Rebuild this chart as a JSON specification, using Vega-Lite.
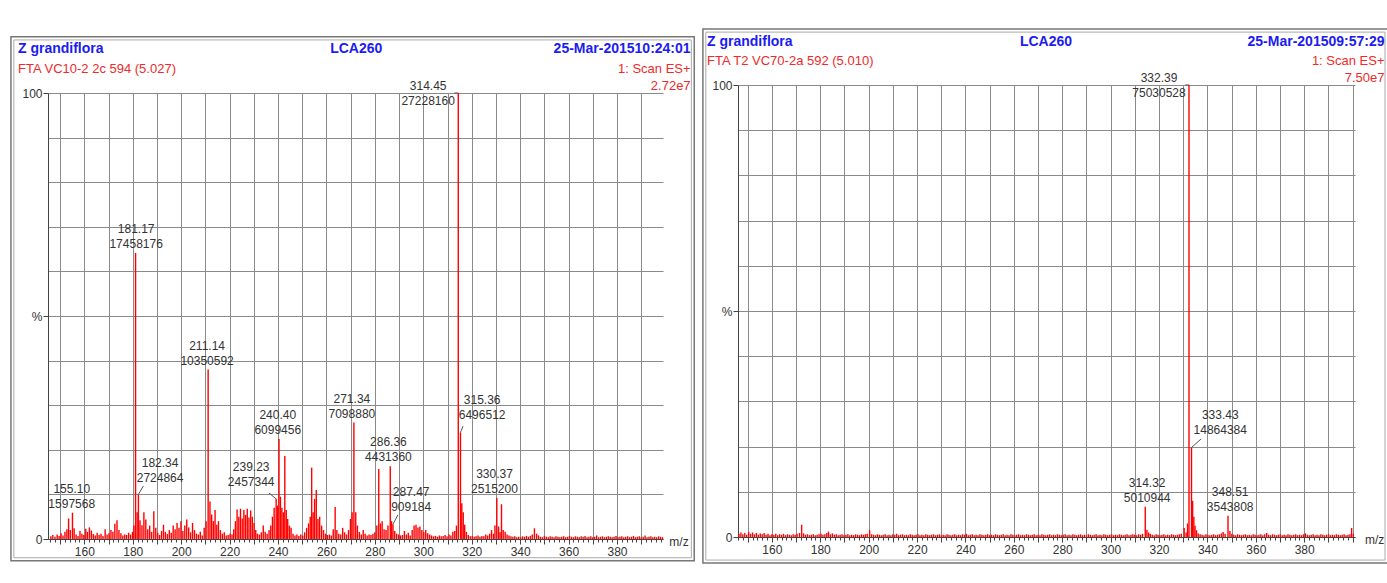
{
"$schema": "https://vega.github.io/schema/vega-lite/v6.json",
"background": "white",
"padding": {"left": 10, "top": 28, "right": 0, "bottom": 0},
"spacing": 7,
"config": {"view": {"stroke": null}, "font": "Liberation Sans"},
"datasets": {
"one": [{}],
"left": [
{"m":146.2,"i":0.6},{"m":147.0,"i":0.9},{"m":147.9,"i":0.5},{"m":148.8,"i":1.0},{"m":149.6,"i":0.7},{"m":150.4,"i":1.3},{"m":151.2,"i":0.8},{"m":152.0,"i":1.6},{"m":152.8,"i":2.2},{"m":153.5,"i":4.6},{"m":154.2,"i":2.0},{"m":155.1,"i":5.9},{"m":155.8,"i":2.4},{"m":156.6,"i":1.0},{"m":157.4,"i":0.7},{"m":158.2,"i":1.8},{"m":159.0,"i":1.2},{"m":159.8,"i":0.9},{"m":160.6,"i":2.3},{"m":161.3,"i":1.6},{"m":162.1,"i":2.6},{"m":162.9,"i":1.9},{"m":163.7,"i":1.1},{"m":164.5,"i":0.8},{"m":165.3,"i":1.4},{"m":166.1,"i":0.9},{"m":166.9,"i":1.2},{"m":167.7,"i":0.7},{"m":168.6,"i":2.2},{"m":169.4,"i":1.0},{"m":170.2,"i":1.3},{"m":171.0,"i":2.0},{"m":171.8,"i":1.6},{"m":172.6,"i":3.4},{"m":173.5,"i":4.2},{"m":174.3,"i":2.0},{"m":175.1,"i":1.3},{"m":175.9,"i":0.8},{"m":176.7,"i":1.0},{"m":177.5,"i":0.9},{"m":178.3,"i":1.4},{"m":179.1,"i":1.0},{"m":179.9,"i":1.6},{"m":180.5,"i":3.0},{"m":181.17,"i":64.1},{"m":181.8,"i":6.0},{"m":182.34,"i":10.0},{"m":183.0,"i":4.2},{"m":183.8,"i":3.1},{"m":184.6,"i":6.0},{"m":185.4,"i":4.4},{"m":186.2,"i":2.2},{"m":187.0,"i":3.0},{"m":187.8,"i":1.6},{"m":188.7,"i":6.2},{"m":189.5,"i":2.5},{"m":190.3,"i":1.4},{"m":191.1,"i":0.9},{"m":191.9,"i":1.8},{"m":192.7,"i":3.2},{"m":193.5,"i":1.6},{"m":194.3,"i":1.1},{"m":195.1,"i":2.0},{"m":195.9,"i":1.4},{"m":196.7,"i":3.0},{"m":197.5,"i":2.2},{"m":198.3,"i":3.6},{"m":199.1,"i":2.5},{"m":199.9,"i":4.0},{"m":200.7,"i":1.8},{"m":201.5,"i":3.0},{"m":202.3,"i":4.4},{"m":203.1,"i":2.6},{"m":203.9,"i":1.5},{"m":204.7,"i":3.6},{"m":205.5,"i":2.0},{"m":206.3,"i":1.2},{"m":207.1,"i":1.0},{"m":207.9,"i":1.6},{"m":208.7,"i":0.8},{"m":209.5,"i":2.5},{"m":210.3,"i":4.0},{"m":211.14,"i":38.0},{"m":211.9,"i":8.4},{"m":212.6,"i":5.5},{"m":213.3,"i":4.0},{"m":214.0,"i":6.5},{"m":214.7,"i":3.2},{"m":215.4,"i":4.0},{"m":216.2,"i":2.0},{"m":217.0,"i":1.2},{"m":217.8,"i":1.5},{"m":218.6,"i":0.8},{"m":219.4,"i":0.9},{"m":220.2,"i":1.2},{"m":221.0,"i":1.0},{"m":221.7,"i":2.2},{"m":222.4,"i":4.0},{"m":223.1,"i":6.6},{"m":223.8,"i":5.0},{"m":224.5,"i":6.8},{"m":225.2,"i":4.6},{"m":225.9,"i":6.5},{"m":226.6,"i":5.4},{"m":227.3,"i":6.8},{"m":228.0,"i":4.8},{"m":228.7,"i":6.4},{"m":229.4,"i":5.0},{"m":230.1,"i":3.6},{"m":230.8,"i":2.0},{"m":231.5,"i":1.2},{"m":232.3,"i":1.0},{"m":233.1,"i":1.5},{"m":233.9,"i":3.0},{"m":234.7,"i":1.6},{"m":235.5,"i":1.2},{"m":236.3,"i":2.0},{"m":237.0,"i":3.0},{"m":237.7,"i":5.0},{"m":238.4,"i":7.0},{"m":239.23,"i":9.0},{"m":239.8,"i":7.5},{"m":240.4,"i":22.4},{"m":241.0,"i":9.5},{"m":241.6,"i":7.0},{"m":242.2,"i":6.0},{"m":242.8,"i":18.6},{"m":243.4,"i":6.5},{"m":244.0,"i":4.5},{"m":244.7,"i":3.0},{"m":245.4,"i":2.5},{"m":246.2,"i":1.2},{"m":247.0,"i":0.8},{"m":247.8,"i":1.0},{"m":248.6,"i":0.7},{"m":249.4,"i":1.0},{"m":250.2,"i":0.8},{"m":251.0,"i":1.5},{"m":251.8,"i":2.5},{"m":252.6,"i":3.5},{"m":253.3,"i":5.0},{"m":253.9,"i":16.0},{"m":254.5,"i":6.0},{"m":255.1,"i":9.0},{"m":255.8,"i":11.0},{"m":256.5,"i":4.5},{"m":257.2,"i":5.0},{"m":258.0,"i":3.0},{"m":258.8,"i":2.0},{"m":259.6,"i":1.2},{"m":260.4,"i":0.9},{"m":261.2,"i":1.0},{"m":262.0,"i":0.8},{"m":262.8,"i":2.2},{"m":263.6,"i":7.2},{"m":264.3,"i":2.0},{"m":265.1,"i":1.2},{"m":265.9,"i":1.0},{"m":266.7,"i":2.5},{"m":267.5,"i":1.5},{"m":268.3,"i":1.0},{"m":269.1,"i":2.0},{"m":269.9,"i":4.5},{"m":270.6,"i":6.0},{"m":271.34,"i":26.1},{"m":272.1,"i":6.0},{"m":272.8,"i":3.0},{"m":273.6,"i":1.6},{"m":274.4,"i":1.0},{"m":275.2,"i":2.0},{"m":276.0,"i":1.2},{"m":276.8,"i":0.8},{"m":277.6,"i":1.0},{"m":278.4,"i":0.9},{"m":279.2,"i":1.2},{"m":280.0,"i":1.5},{"m":280.8,"i":3.0},{"m":281.6,"i":15.7},{"m":282.3,"i":3.5},{"m":283.0,"i":4.0},{"m":283.8,"i":2.2},{"m":284.6,"i":2.0},{"m":285.4,"i":3.0},{"m":286.36,"i":16.3},{"m":286.9,"i":4.0},{"m":287.47,"i":3.3},{"m":288.2,"i":1.8},{"m":289.0,"i":1.2},{"m":289.8,"i":1.0},{"m":290.6,"i":0.8},{"m":291.4,"i":0.9},{"m":292.2,"i":1.8},{"m":293.0,"i":1.0},{"m":293.8,"i":1.4},{"m":294.6,"i":0.8},{"m":295.4,"i":2.0},{"m":296.2,"i":3.0},{"m":297.0,"i":3.2},{"m":297.8,"i":2.6},{"m":298.6,"i":2.8},{"m":299.4,"i":2.0},{"m":300.2,"i":1.5},{"m":301.0,"i":2.0},{"m":301.8,"i":1.3},{"m":302.6,"i":1.0},{"m":303.4,"i":0.8},{"m":304.2,"i":0.6},{"m":305.0,"i":0.7},{"m":305.8,"i":0.5},{"m":306.6,"i":0.8},{"m":307.4,"i":0.6},{"m":308.2,"i":0.7},{"m":309.0,"i":0.9},{"m":309.8,"i":0.6},{"m":310.6,"i":1.0},{"m":311.4,"i":0.8},{"m":312.2,"i":1.6},{"m":313.0,"i":1.8},{"m":313.7,"i":3.0},{"m":314.45,"i":100},{"m":315.36,"i":23.9},{"m":315.9,"i":8.0},{"m":316.5,"i":6.0},{"m":317.1,"i":3.2},{"m":317.8,"i":1.6},{"m":318.6,"i":0.9},{"m":319.4,"i":0.6},{"m":320.2,"i":0.7},{"m":321.0,"i":0.5},{"m":321.8,"i":0.6},{"m":322.6,"i":0.8},{"m":323.4,"i":0.5},{"m":324.2,"i":0.7},{"m":325.0,"i":0.6},{"m":325.8,"i":1.0},{"m":326.6,"i":0.8},{"m":327.4,"i":1.2},{"m":328.2,"i":2.0},{"m":329.0,"i":1.2},{"m":329.6,"i":3.0},{"m":330.37,"i":9.2},{"m":331.1,"i":2.8},{"m":331.7,"i":1.5},{"m":332.3,"i":7.8},{"m":333.0,"i":2.0},{"m":333.8,"i":1.6},{"m":334.6,"i":1.0},{"m":335.4,"i":0.8},{"m":336.2,"i":0.6},{"m":337.0,"i":0.5},{"m":337.8,"i":0.6},{"m":338.6,"i":0.4},{"m":339.4,"i":0.5},{"m":340.2,"i":0.4},{"m":341.0,"i":0.6},{"m":341.8,"i":0.5},{"m":342.6,"i":0.7},{"m":343.4,"i":0.5},{"m":344.2,"i":0.7},{"m":345.0,"i":1.0},{"m":345.9,"i":2.4},{"m":346.8,"i":1.2},{"m":347.6,"i":0.8},{"m":348.4,"i":0.5},{"m":349.2,"i":0.4},{"m":350.0,"i":0.7},{"m":350.8,"i":0.5},{"m":351.6,"i":0.4},{"m":352.4,"i":0.6},{"m":353.2,"i":0.5},{"m":354.0,"i":0.4},{"m":354.8,"i":0.6},{"m":355.6,"i":0.5},{"m":356.4,"i":0.4},{"m":357.2,"i":0.5},{"m":358.0,"i":0.6},{"m":358.8,"i":0.4},{"m":359.6,"i":0.5},{"m":360.4,"i":0.7},{"m":361.2,"i":0.5},{"m":362.0,"i":0.4},{"m":362.8,"i":0.6},{"m":363.6,"i":0.5},{"m":364.4,"i":0.4},{"m":365.2,"i":0.6},{"m":366.0,"i":0.5},{"m":366.8,"i":0.7},{"m":367.6,"i":0.4},{"m":368.4,"i":0.5},{"m":369.2,"i":0.6},{"m":370.0,"i":0.4},{"m":370.8,"i":0.5},{"m":371.6,"i":0.8},{"m":372.4,"i":0.4},{"m":373.2,"i":0.5},{"m":374.0,"i":0.6},{"m":374.8,"i":0.4},{"m":375.6,"i":0.5},{"m":376.4,"i":0.6},{"m":377.2,"i":0.5},{"m":378.0,"i":0.4},{"m":378.8,"i":0.5},{"m":379.6,"i":0.7},{"m":380.4,"i":0.4},{"m":381.2,"i":0.5},{"m":382.0,"i":0.6},{"m":382.8,"i":0.4},{"m":383.6,"i":0.5},{"m":384.4,"i":0.6},{"m":385.2,"i":0.4},{"m":386.0,"i":0.5},{"m":386.8,"i":0.7},{"m":387.6,"i":0.4},{"m":388.4,"i":0.5},{"m":389.2,"i":0.6},{"m":390.0,"i":0.4},{"m":390.8,"i":0.5},{"m":391.6,"i":0.8},{"m":392.4,"i":0.4},{"m":393.2,"i":0.5},{"m":394.0,"i":0.6},{"m":394.8,"i":0.4},{"m":395.6,"i":0.5},{"m":396.4,"i":0.4},{"m":397.2,"i":0.6},{"m":398.0,"i":0.5},{"m":398.8,"i":0.4}
],
"right": [
{"m":146.4,"i":0.7},{"m":147.2,"i":1.0},{"m":148.0,"i":0.6},{"m":148.8,"i":0.9},{"m":149.6,"i":0.5},{"m":150.4,"i":1.1},{"m":151.2,"i":0.7},{"m":152.0,"i":1.0},{"m":152.8,"i":0.6},{"m":153.6,"i":0.9},{"m":154.4,"i":0.5},{"m":155.2,"i":0.8},{"m":156.0,"i":0.6},{"m":156.8,"i":0.9},{"m":157.6,"i":0.5},{"m":158.4,"i":0.7},{"m":159.2,"i":0.4},{"m":160.0,"i":0.6},{"m":160.8,"i":0.5},{"m":161.6,"i":0.7},{"m":162.4,"i":0.4},{"m":163.2,"i":0.6},{"m":164.0,"i":0.5},{"m":164.8,"i":0.7},{"m":165.6,"i":0.4},{"m":166.4,"i":0.6},{"m":167.2,"i":0.5},{"m":168.0,"i":0.4},{"m":168.8,"i":0.6},{"m":169.6,"i":0.5},{"m":170.4,"i":0.7},{"m":171.4,"i":0.9},{"m":172.3,"i":2.7},{"m":173.1,"i":0.8},{"m":173.9,"i":0.5},{"m":174.7,"i":0.6},{"m":175.5,"i":0.4},{"m":176.3,"i":0.5},{"m":177.1,"i":0.6},{"m":177.9,"i":0.4},{"m":178.7,"i":0.5},{"m":179.5,"i":0.6},{"m":180.3,"i":0.7},{"m":181.1,"i":0.5},{"m":181.9,"i":0.6},{"m":182.7,"i":0.9},{"m":183.4,"i":1.2},{"m":184.2,"i":0.6},{"m":185.0,"i":0.8},{"m":185.8,"i":0.5},{"m":186.6,"i":0.6},{"m":187.4,"i":0.4},{"m":188.2,"i":0.5},{"m":189.0,"i":0.6},{"m":189.8,"i":0.4},{"m":190.6,"i":0.5},{"m":191.4,"i":0.6},{"m":192.2,"i":0.4},{"m":193.0,"i":0.5},{"m":193.8,"i":0.4},{"m":194.6,"i":0.6},{"m":195.4,"i":0.5},{"m":196.2,"i":0.4},{"m":197.0,"i":0.6},{"m":197.8,"i":0.5},{"m":198.6,"i":0.6},{"m":199.4,"i":0.7},{"m":200.4,"i":1.5},{"m":201.2,"i":0.6},{"m":202.0,"i":0.5},{"m":202.8,"i":0.4},{"m":203.6,"i":0.6},{"m":204.4,"i":0.5},{"m":205.2,"i":0.4},{"m":206.0,"i":0.5},{"m":206.8,"i":0.6},{"m":207.6,"i":0.4},{"m":208.4,"i":0.5},{"m":209.2,"i":0.4},{"m":210.0,"i":0.6},{"m":210.8,"i":0.5},{"m":211.6,"i":0.7},{"m":212.4,"i":0.4},{"m":213.2,"i":0.5},{"m":214.0,"i":0.6},{"m":214.8,"i":0.4},{"m":215.6,"i":0.5},{"m":216.4,"i":0.4},{"m":217.2,"i":0.6},{"m":218.0,"i":0.5},{"m":218.8,"i":0.4},{"m":219.6,"i":0.5},{"m":220.4,"i":0.6},{"m":221.2,"i":0.4},{"m":222.0,"i":0.5},{"m":222.8,"i":0.4},{"m":223.6,"i":0.6},{"m":224.4,"i":0.5},{"m":225.2,"i":0.4},{"m":226.0,"i":0.5},{"m":226.8,"i":0.6},{"m":227.6,"i":0.4},{"m":228.4,"i":0.5},{"m":229.2,"i":0.6},{"m":230.0,"i":0.4},{"m":230.8,"i":0.5},{"m":231.6,"i":0.4},{"m":232.4,"i":0.6},{"m":233.2,"i":0.5},{"m":234.0,"i":0.4},{"m":234.8,"i":0.5},{"m":235.6,"i":0.6},{"m":236.4,"i":0.4},{"m":237.2,"i":0.5},{"m":238.0,"i":0.4},{"m":238.8,"i":0.6},{"m":239.6,"i":0.5},{"m":240.4,"i":0.7},{"m":241.2,"i":0.4},{"m":242.0,"i":0.5},{"m":242.8,"i":0.6},{"m":243.6,"i":0.4},{"m":244.4,"i":0.5},{"m":245.2,"i":0.4},{"m":246.0,"i":0.6},{"m":246.8,"i":0.5},{"m":247.6,"i":0.4},{"m":248.4,"i":0.5},{"m":249.2,"i":0.6},{"m":250.0,"i":0.4},{"m":250.8,"i":0.5},{"m":251.6,"i":0.4},{"m":252.4,"i":0.6},{"m":253.2,"i":0.5},{"m":254.0,"i":0.4},{"m":254.8,"i":0.5},{"m":255.6,"i":0.6},{"m":256.4,"i":0.4},{"m":257.2,"i":0.5},{"m":258.0,"i":0.4},{"m":258.8,"i":0.6},{"m":259.6,"i":0.5},{"m":260.4,"i":0.4},{"m":261.2,"i":0.5},{"m":262.0,"i":0.6},{"m":262.8,"i":0.4},{"m":263.6,"i":0.5},{"m":264.4,"i":0.4},{"m":265.2,"i":0.6},{"m":266.0,"i":0.5},{"m":266.8,"i":0.4},{"m":267.6,"i":0.5},{"m":268.4,"i":0.6},{"m":269.2,"i":0.4},{"m":270.0,"i":0.5},{"m":270.8,"i":0.4},{"m":271.6,"i":0.6},{"m":272.4,"i":0.5},{"m":273.2,"i":0.4},{"m":274.0,"i":0.5},{"m":274.8,"i":0.6},{"m":275.6,"i":0.4},{"m":276.4,"i":0.5},{"m":277.2,"i":0.4},{"m":278.0,"i":0.6},{"m":278.8,"i":0.5},{"m":279.6,"i":0.4},{"m":280.4,"i":0.5},{"m":281.2,"i":0.6},{"m":282.0,"i":0.4},{"m":282.8,"i":0.5},{"m":283.6,"i":0.4},{"m":284.4,"i":0.6},{"m":285.2,"i":0.5},{"m":286.0,"i":0.4},{"m":286.8,"i":0.5},{"m":287.6,"i":0.6},{"m":288.4,"i":0.4},{"m":289.2,"i":0.5},{"m":290.0,"i":0.4},{"m":290.8,"i":0.6},{"m":291.6,"i":0.5},{"m":292.4,"i":0.4},{"m":293.2,"i":0.5},{"m":294.0,"i":0.6},{"m":294.8,"i":0.4},{"m":295.6,"i":0.5},{"m":296.4,"i":0.4},{"m":297.2,"i":0.6},{"m":298.0,"i":0.5},{"m":298.8,"i":0.4},{"m":299.6,"i":0.5},{"m":300.4,"i":0.6},{"m":301.2,"i":0.4},{"m":302.0,"i":0.5},{"m":302.8,"i":0.4},{"m":303.6,"i":0.6},{"m":304.4,"i":0.5},{"m":305.2,"i":0.4},{"m":306.0,"i":0.5},{"m":306.8,"i":0.6},{"m":307.6,"i":0.4},{"m":308.4,"i":0.5},{"m":309.2,"i":0.6},{"m":310.0,"i":0.5},{"m":310.8,"i":0.4},{"m":311.6,"i":0.6},{"m":312.4,"i":0.5},{"m":313.2,"i":0.7},{"m":314.32,"i":6.7},{"m":315.0,"i":1.6},{"m":315.7,"i":1.0},{"m":316.4,"i":0.7},{"m":317.2,"i":0.5},{"m":318.0,"i":0.4},{"m":318.8,"i":0.6},{"m":319.6,"i":0.5},{"m":320.4,"i":0.4},{"m":321.2,"i":0.5},{"m":322.0,"i":0.6},{"m":322.8,"i":0.4},{"m":323.6,"i":0.5},{"m":324.4,"i":0.4},{"m":325.2,"i":0.6},{"m":326.0,"i":0.5},{"m":326.8,"i":0.4},{"m":327.6,"i":0.5},{"m":328.4,"i":0.6},{"m":329.2,"i":0.7},{"m":330.4,"i":2.0},{"m":331.2,"i":1.0},{"m":331.8,"i":3.0},{"m":332.39,"i":100},{"m":333.43,"i":19.8},{"m":333.9,"i":8.0},{"m":334.4,"i":4.5},{"m":334.9,"i":2.5},{"m":335.5,"i":1.5},{"m":336.2,"i":0.8},{"m":337.0,"i":0.6},{"m":337.8,"i":0.5},{"m":338.6,"i":0.4},{"m":339.4,"i":0.6},{"m":340.2,"i":0.5},{"m":341.0,"i":0.4},{"m":341.8,"i":0.5},{"m":342.6,"i":0.6},{"m":343.4,"i":0.4},{"m":344.2,"i":0.5},{"m":345.0,"i":0.6},{"m":345.8,"i":0.8},{"m":346.5,"i":1.1},{"m":347.3,"i":0.7},{"m":348.51,"i":4.7},{"m":349.3,"i":1.3},{"m":350.1,"i":0.7},{"m":350.9,"i":0.5},{"m":351.7,"i":0.4},{"m":352.5,"i":0.6},{"m":353.3,"i":0.5},{"m":354.1,"i":0.4},{"m":354.9,"i":0.5},{"m":355.7,"i":0.6},{"m":356.5,"i":0.4},{"m":357.3,"i":0.5},{"m":358.1,"i":0.4},{"m":358.9,"i":0.6},{"m":359.7,"i":0.5},{"m":360.5,"i":0.4},{"m":361.3,"i":0.5},{"m":362.1,"i":0.6},{"m":362.9,"i":0.4},{"m":363.7,"i":0.6},{"m":364.5,"i":0.9},{"m":365.3,"i":0.5},{"m":366.1,"i":0.4},{"m":366.9,"i":0.6},{"m":367.7,"i":0.5},{"m":368.5,"i":0.4},{"m":369.3,"i":0.5},{"m":370.1,"i":0.6},{"m":370.9,"i":0.4},{"m":371.7,"i":0.5},{"m":372.5,"i":0.4},{"m":373.3,"i":0.6},{"m":374.1,"i":0.5},{"m":374.9,"i":0.4},{"m":375.7,"i":0.5},{"m":376.5,"i":0.6},{"m":377.3,"i":0.4},{"m":378.1,"i":0.5},{"m":378.9,"i":0.4},{"m":379.7,"i":0.6},{"m":380.5,"i":0.8},{"m":381.3,"i":0.5},{"m":382.1,"i":0.4},{"m":382.9,"i":0.5},{"m":383.7,"i":0.6},{"m":384.5,"i":0.4},{"m":385.3,"i":0.5},{"m":386.1,"i":0.4},{"m":386.9,"i":0.6},{"m":387.7,"i":0.5},{"m":388.5,"i":0.4},{"m":389.3,"i":0.5},{"m":390.1,"i":0.6},{"m":390.9,"i":0.4},{"m":391.7,"i":0.5},{"m":392.5,"i":0.4},{"m":393.3,"i":0.6},{"m":394.1,"i":0.5},{"m":394.9,"i":0.4},{"m":395.7,"i":0.5},{"m":396.5,"i":0.6},{"m":397.3,"i":0.4},{"m":398.1,"i":0.5},{"m":398.9,"i":0.6},{"m":399.6,"i":2.0},{"m":400.3,"i":0.7}
],
"leftLabels": [
{"lx":302.0,"ly":96.6,"t":"314.45\n27228160"},
{"lx":181.4,"ly":64.6,"t":"181.17\n17458176"},
{"lx":210.7,"ly":38.3,"t":"211.14\n10350592"},
{"lx":239.9,"ly":22.9,"t":"240.40\n6099456"},
{"lx":270.5,"ly":26.5,"t":"271.34\n7098880"},
{"lx":285.6,"ly":16.8,"t":"286.36\n4431360"},
{"lx":295.0,"ly":5.6,"t":"287.47\n909184"},
{"lx":154.8,"ly":6.3,"t":"155.10\n1597568"},
{"lx":191.3,"ly":12.1,"t":"182.34\n2724864"},
{"lx":228.9,"ly":11.2,"t":"239.23\n2457344"},
{"lx":324.3,"ly":26.2,"t":"315.36\n6496512"},
{"lx":329.4,"ly":9.6,"t":"330.37\n2515200"}
],
"rightLabels": [
{"lx":320.0,"ly":96.7,"t":"332.39\n75030528"},
{"lx":345.3,"ly":22.1,"t":"333.43\n14864384"},
{"lx":315.1,"ly":7.1,"t":"314.32\n5010944"},
{"lx":349.4,"ly":5.1,"t":"348.51\n3543808"}
],
"leftLeaders": [
{"m":182.34,"i":10.0,"ex":184.4,"ey":11.9},
{"m":239.23,"i":9.0,"ex":236.3,"ey":10.3},
{"m":287.47,"i":3.3,"ex":289.5,"ey":5.4},
{"m":315.36,"i":23.9,"ex":316.4,"ey":25.3},
{"m":314.45,"i":100,"ex":312.8,"ey":100}
],
"rightLeaders": [
{"m":333.43,"i":19.8,"ex":337.4,"ey":21.7},
{"m":332.39,"i":100,"ex":330.8,"ey":100}
]
},
"hconcat": [
{
"vconcat": [
{"width": 615, "height": 1, "data": {"name": "one"}, "mark": {"type": "rule", "opacity": 0}, "encoding": {}},
{
"width": 615, "height": 446,
"resolve": {"axis": {"x": "independent"}},
"layer": [
{"data": {"name": "left"},
 "mark": {"type": "rule", "color": "#ff0000", "strokeWidth": 1.4},
 "encoding": {
  "x": {"field": "m", "type": "quantitative", "scale": {"domain": [145, 399], "nice": false, "zero": false},
   "axis": {"title": null, "orient": "bottom", "values": [150,160,170,180,190,200,210,220,230,240,250,260,270,280,290,300,310,320,330,340,350,360,370,380,390],
    "grid": true, "gridColor": "#8a8a8a", "tickColor": "#444", "tickSize": 5,
    "domainColor": "#444", "labelExpr": "(datum.value % 20 === 0 && datum.value >= 160 && datum.value <= 380) ? format(datum.value, 'd') : ''",
    "labelFontSize": 12, "labelColor": "#333", "labelFlush": false, "labelOverlap": false, "labelPadding": 2}},
  "y": {"field": "i", "type": "quantitative", "scale": {"domain": [0, 100], "nice": false, "zero": true},
   "axis": {"title": null, "values": [0,10,20,30,40,50,60,70,80,90,100], "grid": true, "gridColor": "#8a8a8a",
    "tickColor": "#444", "tickSize": 5, "tickOpacity": {"condition": {"test": "datum.value % 50 === 0", "value": 1}, "value": 0},
    "domainColor": "#444", "labelExpr": "datum.value === 100 ? '100' : datum.value === 50 ? '%' : datum.value === 0 ? '0' : ''",
    "labelFontSize": 12, "labelColor": "#333", "labelFlush": false, "labelOverlap": false, "labelPadding": 1}},
  "y2": {"datum": 0}
 }},
{"data": {"name": "leftLeaders"}, "mark": {"type": "rule", "color": "#555", "strokeWidth": 1},
 "encoding": {"x": {"field": "m", "type": "quantitative",
   "axis": {"title": null, "orient": "bottom", "values": [146,148,152,154,156,158,162,164,166,168,172,174,176,178,182,184,186,188,192,194,196,198,202,204,206,208,212,214,216,218,222,224,226,228,232,234,236,238,242,244,246,248,252,254,256,258,262,264,266,268,272,274,276,278,282,284,286,288,292,294,296,298,302,304,306,308,312,314,316,318,322,324,326,328,332,334,336,338,342,344,346,348,352,354,356,358,362,364,366,368,372,374,376,378,382,384,386,388,392,394,396,398],
    "grid": false, "labels": false, "domain": false, "tickColor": "#444", "tickSize": 3}},
  "y": {"field": "i", "type": "quantitative"}, "x2": {"field": "ex"}, "y2": {"field": "ey"}}},
{"data": {"name": "leftLabels"}, "mark": {"type": "text", "align": "center", "baseline": "bottom", "dy": -15, "fontSize": 12, "lineHeight": 15, "lineBreak": "\n", "color": "#333"},
 "encoding": {"x": {"field": "lx", "type": "quantitative", "axis": null}, "y": {"field": "ly", "type": "quantitative"}, "text": {"field": "t"}}},
{"data": {"name": "one"}, "mark": {"type": "rect", "fill": null, "stroke": "#777", "strokeWidth": 1.5},
 "encoding": {"x": {"datum": 129.7, "type": "quantitative", "axis": null}, "x2": {"datum": 411.9}, "y": {"datum": 112.6, "type": "quantitative"}, "y2": {"datum": -4.9}}},
{"data": {"name": "one"}, "mark": {"type": "rect", "fill": null, "stroke": "#aaa", "strokeWidth": 1},
 "encoding": {"x": {"datum": 130.9, "type": "quantitative", "axis": null}, "x2": {"datum": 410.7}, "y": {"datum": 111.9, "type": "quantitative"}, "y2": {"datum": -4.2}}},
{"data": {"name": "one"}, "mark": {"type": "text", "text": "Z grandiflora", "align": "left", "baseline": "middle", "fontSize": 14, "fontWeight": "bold", "color": "#1c1cf0"},
 "encoding": {"x": {"datum": 132.6, "type": "quantitative", "axis": null}, "y": {"datum": 109.9, "type": "quantitative"}}},
{"data": {"name": "one"}, "mark": {"type": "text", "text": "LCA260", "align": "center", "baseline": "middle", "fontSize": 14, "fontWeight": "bold", "color": "#1c1cf0"},
 "encoding": {"x": {"datum": 272.3, "type": "quantitative", "axis": null}, "y": {"datum": 109.9, "type": "quantitative"}}},
{"data": {"name": "one"}, "mark": {"type": "text", "text": "25-Mar-201510:24:01", "align": "right", "baseline": "middle", "fontSize": 14, "fontWeight": "bold", "color": "#1c1cf0"},
 "encoding": {"x": {"datum": 410.4, "type": "quantitative", "axis": null}, "y": {"datum": 109.9, "type": "quantitative"}}},
{"data": {"name": "one"}, "mark": {"type": "text", "text": "FTA VC10-2 2c 594 (5.027)", "align": "left", "baseline": "middle", "fontSize": 13, "color": "#ee2a2a"},
 "encoding": {"x": {"datum": 132.6, "type": "quantitative", "axis": null}, "y": {"datum": 105.4, "type": "quantitative"}}},
{"data": {"name": "one"}, "mark": {"type": "text", "text": "1: Scan ES+", "align": "right", "baseline": "middle", "fontSize": 13, "color": "#ee2a2a"},
 "encoding": {"x": {"datum": 410.4, "type": "quantitative", "axis": null}, "y": {"datum": 105.4, "type": "quantitative"}}},
{"data": {"name": "one"}, "mark": {"type": "text", "text": "2.72e7", "align": "right", "baseline": "middle", "fontSize": 13, "color": "#ee2a2a"},
 "encoding": {"x": {"datum": 410.4, "type": "quantitative", "axis": null}, "y": {"datum": 101.6, "type": "quantitative"}}},
{"data": {"name": "one"}, "mark": {"type": "text", "text": "m/z", "align": "left", "baseline": "middle", "fontSize": 12, "color": "#333"},
 "encoding": {"x": {"datum": 401.6, "type": "quantitative", "axis": null}, "y": {"datum": -0.7, "type": "quantitative"}}}
]
}
],
"spacing": 7,
"bounds": "flush"
},
{
"width": 617, "height": 452,
"resolve": {"axis": {"x": "independent"}},
"layer": [
{"data": {"name": "right"},
 "mark": {"type": "rule", "color": "#ff0000", "strokeWidth": 1.4},
 "encoding": {
  "x": {"field": "m", "type": "quantitative", "scale": {"domain": [146, 401], "nice": false, "zero": false},
   "axis": {"title": null, "orient": "bottom", "values": [150,160,170,180,190,200,210,220,230,240,250,260,270,280,290,300,310,320,330,340,350,360,370,380,390,400],
    "grid": true, "gridColor": "#8a8a8a", "tickColor": "#444", "tickSize": 5,
    "domainColor": "#444", "labelExpr": "(datum.value % 20 === 0 && datum.value >= 160 && datum.value <= 380) ? format(datum.value, 'd') : ''",
    "labelFontSize": 12, "labelColor": "#333", "labelFlush": false, "labelOverlap": false, "labelPadding": 2}},
  "y": {"field": "i", "type": "quantitative", "scale": {"domain": [0, 100], "nice": false, "zero": true},
   "axis": {"title": null, "values": [0,10,20,30,40,50,60,70,80,90,100], "grid": true, "gridColor": "#8a8a8a",
    "tickColor": "#444", "tickSize": 5, "tickOpacity": {"condition": {"test": "datum.value % 50 === 0", "value": 1}, "value": 0},
    "domainColor": "#444", "labelExpr": "datum.value === 100 ? '100' : datum.value === 50 ? '%' : datum.value === 0 ? '0' : ''",
    "labelFontSize": 12, "labelColor": "#333", "labelFlush": false, "labelOverlap": false, "labelPadding": 1}},
  "y2": {"datum": 0}
 }},
{"data": {"name": "rightLeaders"}, "mark": {"type": "rule", "color": "#555", "strokeWidth": 1},
 "encoding": {"x": {"field": "m", "type": "quantitative",
   "axis": {"title": null, "orient": "bottom", "values": [146,148,152,154,156,158,162,164,166,168,172,174,176,178,182,184,186,188,192,194,196,198,202,204,206,208,212,214,216,218,222,224,226,228,232,234,236,238,242,244,246,248,252,254,256,258,262,264,266,268,272,274,276,278,282,284,286,288,292,294,296,298,302,304,306,308,312,314,316,318,322,324,326,328,332,334,336,338,342,344,346,348,352,354,356,358,362,364,366,368,372,374,376,378,382,384,386,388,392,394,396,398],
    "grid": false, "labels": false, "domain": false, "tickColor": "#444", "tickSize": 3}},
  "y": {"field": "i", "type": "quantitative"}, "x2": {"field": "ex"}, "y2": {"field": "ey"}}},
{"data": {"name": "rightLabels"}, "mark": {"type": "text", "align": "center", "baseline": "bottom", "dy": -15, "fontSize": 12, "lineHeight": 15, "lineBreak": "\n", "color": "#333"},
 "encoding": {"x": {"field": "lx", "type": "quantitative", "axis": null}, "y": {"field": "ly", "type": "quantitative"}, "text": {"field": "t"}}},
{"data": {"name": "one"}, "mark": {"type": "rect", "fill": null, "stroke": "#777", "strokeWidth": 1.5},
 "encoding": {"x": {"datum": 131.5, "type": "quantitative", "axis": null}, "x2": {"datum": 414.6}, "y": {"datum": 112.4, "type": "quantitative"}, "y2": {"datum": -5.75}}},
{"data": {"name": "one"}, "mark": {"type": "rect", "fill": null, "stroke": "#aaa", "strokeWidth": 1},
 "encoding": {"x": {"datum": 132.7, "type": "quantitative", "axis": null}, "x2": {"datum": 413.4}, "y": {"datum": 111.7, "type": "quantitative"}, "y2": {"datum": -5.1}}},
{"data": {"name": "one"}, "mark": {"type": "text", "text": "Z grandiflora", "align": "left", "baseline": "middle", "fontSize": 14, "fontWeight": "bold", "color": "#1c1cf0"},
 "encoding": {"x": {"datum": 133.2, "type": "quantitative", "axis": null}, "y": {"datum": 109.5, "type": "quantitative"}}},
{"data": {"name": "one"}, "mark": {"type": "text", "text": "LCA260", "align": "center", "baseline": "middle", "fontSize": 14, "fontWeight": "bold", "color": "#1c1cf0"},
 "encoding": {"x": {"datum": 273.3, "type": "quantitative", "axis": null}, "y": {"datum": 109.5, "type": "quantitative"}}},
{"data": {"name": "one"}, "mark": {"type": "text", "text": "25-Mar-201509:57:29", "align": "right", "baseline": "middle", "fontSize": 14, "fontWeight": "bold", "color": "#1c1cf0"},
 "encoding": {"x": {"datum": 413.2, "type": "quantitative", "axis": null}, "y": {"datum": 109.5, "type": "quantitative"}}},
{"data": {"name": "one"}, "mark": {"type": "text", "text": "FTA T2 VC70-2a 592 (5.010)", "align": "left", "baseline": "middle", "fontSize": 13, "color": "#ee2a2a"},
 "encoding": {"x": {"datum": 133.2, "type": "quantitative", "axis": null}, "y": {"datum": 105.3, "type": "quantitative"}}},
{"data": {"name": "one"}, "mark": {"type": "text", "text": "1: Scan ES+", "align": "right", "baseline": "middle", "fontSize": 13, "color": "#ee2a2a"},
 "encoding": {"x": {"datum": 413.2, "type": "quantitative", "axis": null}, "y": {"datum": 105.3, "type": "quantitative"}}},
{"data": {"name": "one"}, "mark": {"type": "text", "text": "7.50e7", "align": "right", "baseline": "middle", "fontSize": 13, "color": "#ee2a2a"},
 "encoding": {"x": {"datum": 413.2, "type": "quantitative", "axis": null}, "y": {"datum": 101.5, "type": "quantitative"}}},
{"data": {"name": "one"}, "mark": {"type": "text", "text": "m/z", "align": "left", "baseline": "middle", "fontSize": 12, "color": "#333"},
 "encoding": {"x": {"datum": 405.1, "type": "quantitative", "axis": null}, "y": {"datum": -0.7, "type": "quantitative"}}}
]
}
]
}
